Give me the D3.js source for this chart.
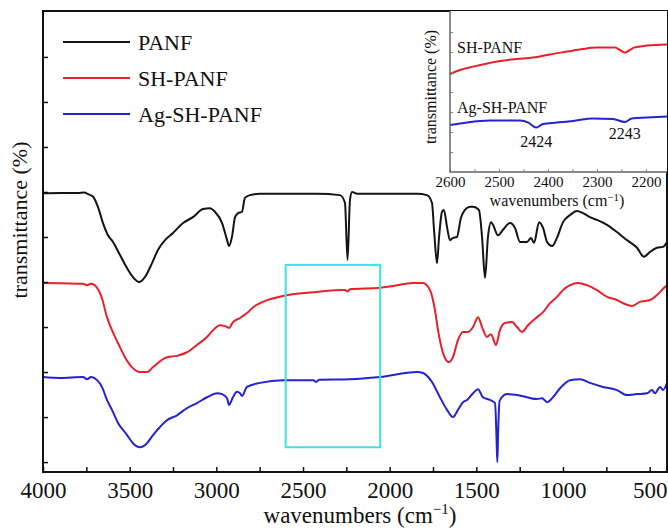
<!DOCTYPE html>
<html>
  <head>
   <meta charset="utf-8" />
   <title>FTIR</title>
   <style>
     body { margin: 0; background: white; }
     svg text { font-family: "Liberation Serif", "Times New Roman", serif !important; fill: #111; }
   </style>
  </head>
  <body>
<svg id="chart" width=668 height=531></svg>
  <script src="https://d3js.org/d3.v7.min.js"></script>
  <script>
    // main spectra: [wavenumber, transmittance (offset units)]
    var panf = [[4000,5.97],[3900,5.98],[3800,5.98],[3760,5.99],[3740,5.95],[3712,5.90],[3683,5.67],[3654,5.31],[3625,5.04],[3596,4.89],[3556,4.60],[3515,4.31],[3481,4.11],[3446,4.00],[3412,4.11],[3371,4.42],[3337,4.71],[3296,4.93],[3250,5.09],[3192,5.31],[3135,5.44],[3077,5.62],[3037,5.64],[3008,5.56],[2967,5.31],[2938,4.93],[2927,4.80],[2910,5.00],[2892,5.44],[2875,5.53],[2852,5.56],[2835,5.87],[2806,5.93],[2748,5.96],[2615,5.96],[2419,5.96],[2287,5.93],[2258,5.76],[2243,4.49],[2229,5.82],[2217,6.00],[2188,5.96],[2039,5.96],[1842,5.96],[1785,5.93],[1756,5.76],[1744,5.16],[1727,4.42],[1715,5.00],[1698,5.56],[1687,5.60],[1669,5.22],[1652,4.93],[1635,4.98],[1612,5.00],[1589,5.42],[1566,5.60],[1537,5.67],[1519,5.67],[1485,5.60],[1467,5.00],[1450,4.09],[1433,5.00],[1415,5.33],[1404,5.27],[1375,5.04],[1346,5.16],[1306,5.31],[1277,5.20],[1248,4.89],[1208,4.89],[1185,4.98],[1167,4.87],[1138,5.33],[1115,5.20],[1092,4.89],[1063,4.80],[1035,4.98],[1000,5.33],[959,5.49],[919,5.58],[885,5.53],[844,5.44],[804,5.38],[746,5.27],[689,5.11],[631,4.93],[573,4.76],[533,4.56],[498,4.67],[458,4.76],[423,4.78],[400,4.89]];

    var shPanf = [[4000,3.98],[3900,3.97],[3769,3.96],[3746,3.93],[3723,3.96],[3688,3.87],[3660,3.64],[3631,3.22],[3602,2.93],[3567,2.64],[3527,2.33],[3487,2.11],[3440,2.00],[3400,2.00],[3365,2.11],[3325,2.24],[3285,2.33],[3227,2.36],[3169,2.44],[3112,2.60],[3054,2.78],[3019,2.93],[2979,3.04],[2950,3.02],[2927,2.98],[2904,3.11],[2863,3.20],[2823,3.31],[2788,3.44],[2748,3.53],[2731,3.56],[2615,3.69],[2419,3.78],[2258,3.82],[2243,3.79],[2229,3.84],[2056,3.87],[1981,3.91],[1865,3.98],[1808,3.98],[1767,3.82],[1739,3.38],[1721,2.93],[1692,2.42],[1658,2.22],[1635,2.33],[1606,2.71],[1577,2.89],[1548,2.89],[1519,3.00],[1490,3.22],[1467,3.00],[1439,2.78],[1415,2.84],[1387,2.60],[1364,2.93],[1335,3.09],[1294,3.11],[1265,3.00],[1237,2.89],[1202,3.04],[1150,3.22],[1115,3.33],[1075,3.53],[1035,3.67],[1000,3.82],[959,3.93],[914,3.98],[862,3.93],[804,3.82],[746,3.67],[689,3.60],[654,3.53],[602,3.47],[556,3.56],[498,3.60],[458,3.71],[412,3.89],[400,3.93]];

    var agShPanf = [[4000,1.89],[3902,1.87],[3769,1.89],[3746,1.84],[3723,1.89],[3688,1.82],[3660,1.67],[3631,1.38],[3602,1.16],[3567,0.87],[3515,0.60],[3481,0.42],[3440,0.33],[3400,0.42],[3365,0.60],[3325,0.78],[3285,0.93],[3227,1.04],[3169,1.20],[3112,1.31],[3054,1.44],[2996,1.53],[2967,1.51],[2938,1.42],[2927,1.27],[2904,1.44],[2881,1.56],[2863,1.53],[2852,1.47],[2823,1.67],[2748,1.76],[2615,1.82],[2440,1.82],[2424,1.78],[2408,1.83],[2229,1.84],[2056,1.89],[1842,2.00],[1808,1.98],[1756,1.78],[1710,1.44],[1669,1.16],[1635,1.00],[1606,1.16],[1577,1.33],[1554,1.38],[1519,1.53],[1490,1.62],[1462,1.44],[1421,1.38],[1392,1.31],[1384,0.60],[1379,0.00],[1374,0.70],[1366,1.36],[1323,1.51],[1265,1.49],[1208,1.44],[1150,1.40],[1121,1.42],[1092,1.33],[1058,1.44],[1017,1.64],[959,1.82],[902,1.84],[844,1.76],[769,1.67],[689,1.60],[631,1.49],[573,1.51],[515,1.53],[487,1.60],[469,1.53],[440,1.67],[423,1.60],[400,1.76]];

    // inset (2600-2157 cm-1)
    var insetShPanf = [[2600,4.9],[2580,5.1],[2553,5.27],[2524,5.43],[2498,5.55],[2463,5.65],[2431,5.72],[2396,5.88],[2361,6.02],[2329,6.15],[2300,6.22],[2263,6.22],[2253,6.1],[2243,5.97],[2233,6.1],[2223,6.23],[2198,6.32],[2157,6.38]];
    var insetAgShPanf = [[2600,2.35],[2565,2.48],[2518,2.57],[2457,2.57],[2440,2.47],[2424,2.22],[2410,2.4],[2382,2.47],[2349,2.55],[2308,2.68],[2267,2.65],[2243,2.5],[2229,2.68],[2198,2.72],[2157,2.78]];

    var seriesNames = ["PANF", "SH-PANF", "Ag-SH-PANF"];
    var seriesColors = ["#141414", "#e8202a", "#2323d2"];
    var xTicks = d3.range(4000, 499, -250);
    var yTicks = d3.range(0, 10);
    var insetXTicks = d3.range(2600, 2199, -50);
    var insetYTicks = d3.range(1, 8);
    var zoomBox = [2600, 2055, 4.38, 0.33];

    var serif = "'Liberation Serif', 'Times New Roman', serif";
    var svg = d3.select("#chart");

    var x = d3.scaleLinear().domain([4000, 400]).range([43, 667]);
    var y = d3.scaleLinear().domain([-0.22, 10.02]).range([472, 11]);

    svg.append("clipPath").attr("id", "clip")
      .append("rect").attr("x", 43).attr("y", 11).attr("width", 624).attr("height", 461);

    var line = d3.line()
      .x(function(d){ return x(d[0]); })
      .y(function(d){ return y(d[1]); })
      .curve(d3.curveMonotoneX);

    [panf, shPanf, agShPanf].forEach(function(data, i){
      svg.append("path")
        .attr("d", line(data))
        .attr("clip-path", "url(#clip)")
        .attr("fill", "none")
        .attr("stroke", seriesColors[i])
        .attr("stroke-width", 2);
    });

    // axes
    var xAxis = svg.append("g")
      .attr("transform", "translate(0,472)")
      .call(d3.axisBottom(x).tickValues(xTicks).tickSize(-5).tickPadding(10)
        .tickFormat(function(d){ return d % 500 === 0 ? d : ""; }));
    xAxis.attr("font-family", serif).attr("font-size", 23);
    xAxis.select(".domain").remove();
    xAxis.selectAll("line").attr("stroke", "#111").attr("stroke-width", 1.5);
    xAxis.selectAll("text").attr("fill", "#111");

    var yAxis = svg.append("g")
      .attr("transform", "translate(43,0)")
      .call(d3.axisLeft(y).tickValues(yTicks).tickSize(-5).tickFormat(""));
    yAxis.select(".domain").remove();
    yAxis.selectAll("line").attr("stroke", "#111").attr("stroke-width", 1.5);

    svg.append("rect")
      .attr("x", 43).attr("y", 11).attr("width", 624).attr("height", 461)
      .attr("fill", "none").attr("stroke", "#111").attr("stroke-width", 2);

    // zoom box
    svg.append("rect")
      .attr("x", x(zoomBox[0])).attr("y", y(zoomBox[2]))
      .attr("width", x(zoomBox[1]) - x(zoomBox[0]))
      .attr("height", y(zoomBox[3]) - y(zoomBox[2]))
      .attr("fill", "none").attr("stroke", "#3fe3e6").attr("stroke-width", 2);

    // axis titles
    var xl = svg.append("text")
      .attr("x", 360).attr("y", 523)
      .attr("text-anchor", "middle")
      .style("font-size", "23px");
    xl.append("tspan").text("wavenumbers (cm");
    xl.append("tspan").attr("dy", -9).style("font-size", "15px").text("\u22121");
    xl.append("tspan").attr("dy", 9).text(")");

    svg.append("text")
      .attr("transform", "translate(27,220) rotate(-90)")
      .attr("text-anchor", "middle")
      .style("font-size", "22px")
      .text("transmittance (%)");

    // legend
    seriesNames.forEach(function(name, i){
      var by = 50 + i * 36;
      svg.append("line")
        .attr("x1", 63).attr("x2", 130)
        .attr("y1", by - 8).attr("y2", by - 8)
        .attr("stroke", seriesColors[i]).attr("stroke-width", 2);
      svg.append("text")
        .attr("x", 138).attr("y", by)
        .style("font-size", "22px")
        .text(name);
    });

    // inset
    var ix = d3.scaleLinear().domain([2600, 2157]).range([450, 667]);
    var iy = d3.scaleLinear().domain([0, 8.05]).range([172, 11]);

    svg.append("rect")
      .attr("x", 450).attr("y", 11).attr("width", 217).attr("height", 161)
      .attr("fill", "white");

    var iline = d3.line()
      .x(function(d){ return ix(d[0]); })
      .y(function(d){ return iy(d[1]); })
      .curve(d3.curveMonotoneX);

    [insetShPanf, insetAgShPanf].forEach(function(data, i){
      svg.append("path")
        .attr("d", iline(data))
        .attr("fill", "none")
        .attr("stroke", seriesColors[i + 1])
        .attr("stroke-width", 2);
    });

    var ixAxis = svg.append("g")
      .attr("transform", "translate(0,172)")
      .call(d3.axisBottom(ix).tickValues(insetXTicks).tickSize(-3).tickPadding(4)
        .tickFormat(function(d){ return d % 100 === 0 ? d : ""; }));
    ixAxis.attr("font-family", serif).attr("font-size", 15);
    ixAxis.select(".domain").remove();
    ixAxis.selectAll("line").attr("stroke", "#888");
    ixAxis.selectAll("text").attr("fill", "#111");

    var iyAxis = svg.append("g")
      .attr("transform", "translate(450,0)")
      .call(d3.axisLeft(iy).tickValues(insetYTicks).tickSize(-3).tickFormat(""));
    iyAxis.select(".domain").remove();
    iyAxis.selectAll("line").attr("stroke", "#888");

    svg.append("path")
      .attr("d", "M450,11V172H667")
      .attr("fill", "none").attr("stroke", "#666").attr("stroke-width", 1.5);

    svg.append("text").attr("x", 457).attr("y", iy(5.95)).style("font-size", "16px").text("SH-PANF");
    svg.append("text").attr("x", 457).attr("y", iy(2.95)).style("font-size", "16px").text("Ag-SH-PANF");
    svg.append("text").attr("x", ix(2424)).attr("y", iy(1.25)).attr("text-anchor", "middle").style("font-size", "16px").text("2424");
    svg.append("text").attr("x", ix(2243)).attr("y", iy(1.65)).attr("text-anchor", "middle").style("font-size", "16px").text("2243");

    var ixl = svg.append("text")
      .attr("x", 557).attr("y", 206)
      .attr("text-anchor", "middle")
      .style("font-size", "16px");
    ixl.append("tspan").text("wavenumbers (cm");
    ixl.append("tspan").attr("dy", -5).style("font-size", "11px").text("\u22121");
    ixl.append("tspan").attr("dy", 5).text(")");

    svg.append("text")
      .attr("transform", "translate(436,87) rotate(-90)")
      .attr("text-anchor", "middle")
      .style("font-size", "16px")
      .text("transmittance (%)");
  </script>
  </body>
</html>
